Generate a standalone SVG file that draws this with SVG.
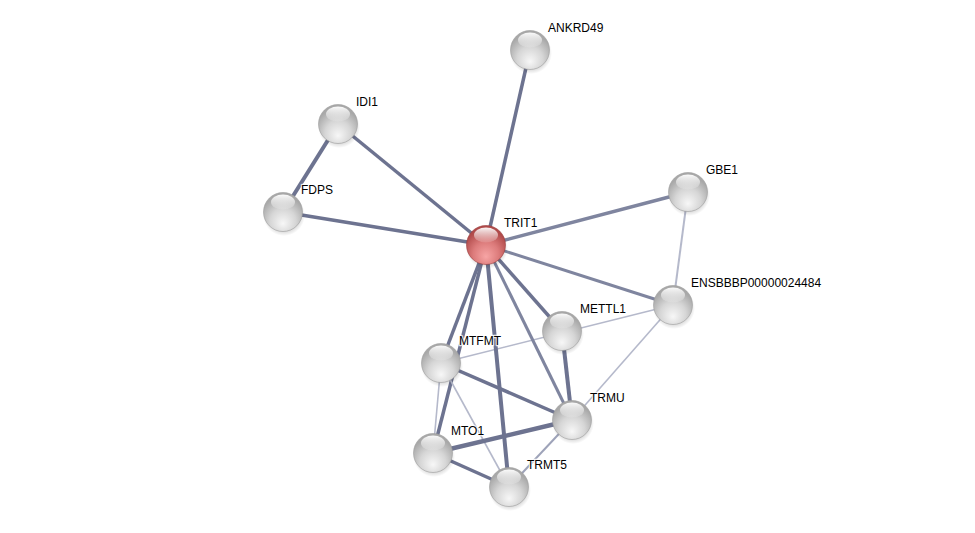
<svg xmlns="http://www.w3.org/2000/svg" width="975" height="533" viewBox="0 0 975 533">
<defs>
<radialGradient id="gray" cx="50%" cy="70%" r="60%" fx="50%" fy="80%">
<stop offset="0" stop-color="#f7f7f7"/>
<stop offset="0.55" stop-color="#d6d6d6"/>
<stop offset="1" stop-color="#a8a8a8"/>
</radialGradient>
<radialGradient id="red" cx="50%" cy="70%" r="60%" fx="50%" fy="80%">
<stop offset="0" stop-color="#f7a5a5"/>
<stop offset="0.55" stop-color="#dc7b7b"/>
<stop offset="1" stop-color="#b04a4a"/>
</radialGradient>
<linearGradient id="hl" x1="0" y1="0" x2="0" y2="1">
<stop offset="0" stop-color="#ffffff" stop-opacity="0.95"/>
<stop offset="1" stop-color="#ffffff" stop-opacity="0.1"/>
</linearGradient>
<radialGradient id="sh" cx="50%" cy="50%" r="50%">
<stop offset="0.6" stop-color="#000" stop-opacity="0.25"/>
<stop offset="1" stop-color="#000" stop-opacity="0"/>
</radialGradient>
<g id="ball">
<circle cx="1" cy="3" r="21" fill="url(#sh)"/>
<circle r="19.5" fill="url(#gray)" stroke="#9c9c9c" stroke-width="0.6"/>
<ellipse cx="0" cy="-10" rx="12" ry="7.5" fill="url(#hl)"/>
</g>
<g id="rball">
<circle cx="1" cy="3" r="21" fill="url(#sh)"/>
<circle r="19.5" fill="url(#red)" stroke="#9a3c3c" stroke-width="0.6"/>
<ellipse cx="0" cy="-10" rx="12" ry="7.5" fill="url(#hl)"/>
</g>
</defs>
<style>
.d{stroke:#6d7390;stroke-width:3.5;fill:none}
.m{stroke:#7f859f;stroke-width:3;fill:none}
.l{stroke:#b5b9cb;stroke-width:1.6;fill:none}
.lm{stroke:#9ea3b9;stroke-width:2;fill:none}
text{font-family:"Liberation Sans",Arial,sans-serif;font-size:12px;fill:#000;stroke:#fff;stroke-width:2.5;stroke-opacity:0.8;paint-order:stroke;stroke-linejoin:round}
</style>
<rect width="975" height="533" fill="#fff"/>
<g id="edges">
<line class="d" x1="486" y1="245" x2="530" y2="50"/>
<line class="d" x1="486" y1="245" x2="338" y2="124"/>
<line class="d" x1="486" y1="245" x2="283" y2="212"/>
<line class="d" x1="338" y1="124" x2="283" y2="212" style="stroke-width:4"/>
<line class="m" x1="486" y1="245" x2="688" y2="192" style="stroke-width:3.5"/>
<line class="m" x1="486" y1="245" x2="673" y2="305"/>
<line class="l" x1="688" y1="192" x2="673" y2="305" style="stroke-width:2"/>
<line class="l" x1="673" y1="305" x2="441" y2="363"/>
<line class="l" x1="673" y1="305" x2="572" y2="420"/>
<line class="d" x1="486" y1="245" x2="562" y2="331"/>
<line class="d" x1="486" y1="245" x2="441" y2="363"/>
<line class="d" x1="486" y1="245" x2="433" y2="453"/>
<line class="d" x1="486" y1="245" x2="509" y2="487" style="stroke-width:4"/>
<line class="m" x1="486" y1="245" x2="572" y2="420"/>
<line class="d" x1="562" y1="331" x2="572" y2="420" style="stroke-width:4"/>
<line class="d" x1="441" y1="363" x2="572" y2="420"/>
<line class="l" x1="441" y1="363" x2="433" y2="453"/>
<line class="l" x1="441" y1="363" x2="509" y2="487"/>
<line class="d" x1="433" y1="453" x2="572" y2="420" style="stroke-width:4.5"/>
<line class="d" x1="433" y1="453" x2="509" y2="487"/>
<line class="lm" x1="509" y1="487" x2="572" y2="420"/>
</g>
<g id="ANKRD49"><use href="#ball" x="530" y="50"/><text x="548" y="32">ANKRD49</text></g>
<g id="IDI1"><use href="#ball" x="338" y="124"/><text x="356" y="106">IDI1</text></g>
<g id="FDPS"><use href="#ball" x="283" y="212"/><text x="301" y="194">FDPS</text></g>
<g id="GBE1"><use href="#ball" x="688" y="192"/><text x="706" y="174">GBE1</text></g>
<g id="ENSBBBP00000024484"><use href="#ball" x="673" y="305"/><text x="691" y="287">ENSBBBP00000024484</text></g>
<g id="METTL1"><use href="#ball" x="562" y="331"/><text x="580" y="313">METTL1</text></g>
<g id="MTFMT"><use href="#ball" x="441" y="363"/><text x="459" y="345">MTFMT</text></g>
<g id="TRMU"><use href="#ball" x="572" y="420"/><text x="590" y="402">TRMU</text></g>
<g id="MTO1"><use href="#ball" x="433" y="453"/><text x="451" y="435">MTO1</text></g>
<g id="TRMT5"><use href="#ball" x="509" y="487"/><text x="527" y="469">TRMT5</text></g>
<g id="TRIT1"><use href="#rball" x="486" y="245"/><text x="504" y="227">TRIT1</text></g>
</svg>
